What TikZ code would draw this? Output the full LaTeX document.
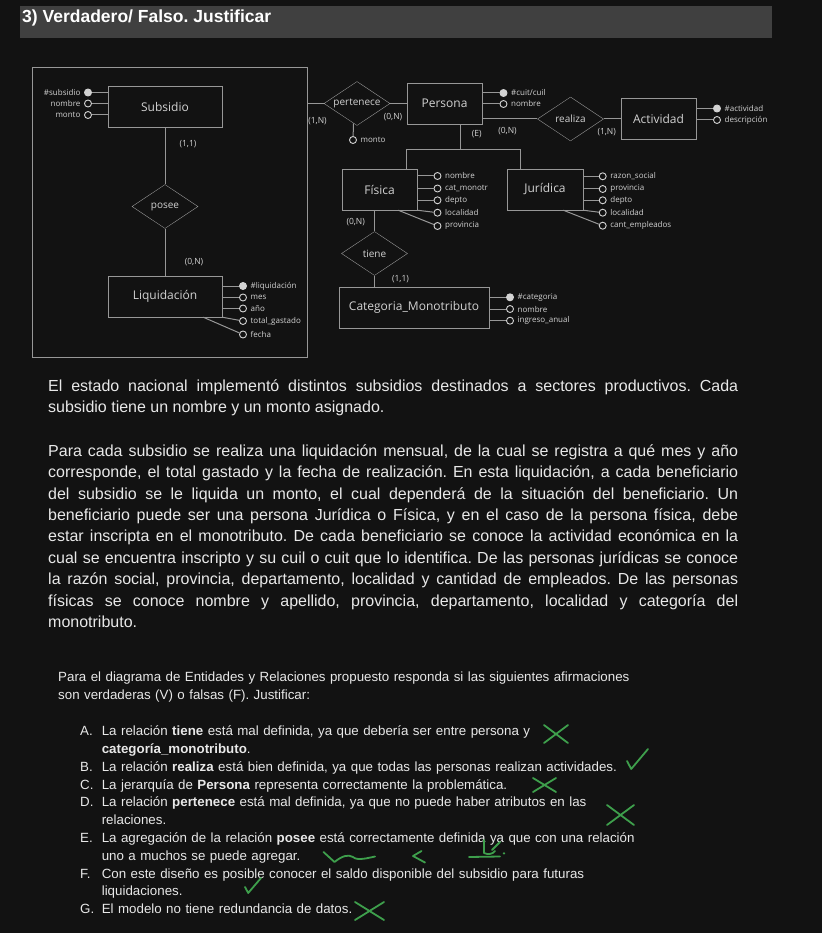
\documentclass[tikz,border=0pt]{standalone}
\usepackage{fontspec}
\setmainfont{Liberation Sans}
\newfontfamily\erfont{Open Sans}
\usetikzlibrary{shapes.geometric}
\definecolor{fondo}{HTML}{121212}
\definecolor{barra}{HTML}{404040}
\definecolor{linea}{HTML}{979797}
\definecolor{gris}{HTML}{D2D2D2}
\definecolor{texto}{HTML}{E8E8E8}
\definecolor{verde}{HTML}{3E9F4C}
\def\cruz{(-1,-1) -- (1,1) (1,-1) -- (-1,1)}
\def\visto{(-1,0.2) -- (-0.6,1) -- (1,-1)}

\begin{document}
\frenchspacing
\begin{tikzpicture}[x=1pt,y=-1pt,
    entidad/.style={draw=linea,fill=fondo,minimum height=41pt,inner sep=0pt,
        font=\erfont\fontsize{12}{14}\selectfont,text=gris},
    relacion/.style={diamond,draw=linea,fill=fondo,aspect=1.5,minimum width=66pt,
        minimum height=44pt,inner sep=0pt,font=\erfont\fontsize{10}{12}\selectfont,text=gris},
    attr/.style={circle,draw=gris,line width=0.9pt,fill=fondo,minimum size=7pt,inner sep=0pt},
    clave/.style={attr,fill=gris},
    etiq/.style={font=\erfont\fontsize{8}{9}\selectfont,text=gris,inner sep=0.5pt},
    der/.style={label={[etiq,xshift=3pt]right:#1}},
    izq/.style={label={[etiq,xshift=-3pt]left:#1}},
    card/.style={font=\erfont\fontsize{8.5}{10}\selectfont,text=gris,inner sep=0pt},
    con/.style={draw=linea,line width=1pt},
    parrafo/.style={anchor=base west,text width=690pt,align=justify,inner sep=0pt,
        font=\fontsize{16}{21.4}\selectfont,text=texto},
    pregunta/.style={anchor=base west,text width=640pt,align=left,inner sep=0pt,
        font=\fontsize{13.33}{17.8}\selectfont,text=texto},
    letra/.style={anchor=base west,inner sep=0pt,font=\fontsize{13.33}{17.8}\selectfont,text=texto},
    tick/.style={draw=verde,line width=1.8pt,line cap=round,line join=round}]

    \useasboundingbox (0,0) rectangle (822,933);
    \fill[fondo] (0,0) rectangle (822,933);

    % titulo
    \fill[barra] (20,6) rectangle (772,38);
    \node (titulo) [anchor=base west,inner sep=0pt,text=white,
        font=\bfseries\fontsize{17.5}{20}\selectfont] at (22,23) {3) Verdadero/ Falso. Justificar};

    % diagrama E-R
    \node (agregacion) [draw=linea,line width=1pt,minimum width=275pt,minimum height=289pt,inner sep=0pt] at (169.5,212.5) {};

    \node (subsidio) [entidad,minimum width=114pt] at (165,107) {Subsidio};
    \node (posee) [relacion] at (165,206.5) {posee};
    \node (liquidacion) [entidad,minimum width=114pt] at (165,296.5) {Liquidación};
    \node (pertenece) [relacion] at (357,103.5) {pertenece};
    \node (persona) [entidad,minimum width=75pt] at (444.5,103.5) {Persona};
    \node (realiza) [relacion] at (570.5,119) {realiza};
    \node (actividad) [entidad,minimum width=75pt] at (658.5,119) {Actividad};
    \node (fisica) [entidad,minimum width=75pt] at (379.5,189.5) {Física};
    \node (juridica) [entidad,minimum width=76pt] at (545,189.5) {Jurídica};
    \node (tiene) [relacion] at (374.5,253.5) {tiene};
    \node (categoria) [entidad,minimum width=150pt] at (414,307.5) {Categoria\_Monotributo};

    \draw[con] (subsidio) -- (posee);
    \draw[con] (posee) -- (liquidacion);
    \draw[con] (agregacion.east |- pertenece) -- (pertenece);
    \draw[con] (pertenece) -- (persona);
    \draw[con] (persona.east |- realiza) -- (realiza);
    \draw[con] (realiza) -- (actividad);
    \draw[con] (tiene.north |- fisica.south) -- (tiene);
    \draw[con] (tiene) -- (tiene.south |- categoria.north);

    % jerarquia
    \coordinate (jer) at (460.5,150);
    \coordinate (jerf) at (406.5,150);
    \coordinate (jerj) at (520.5,150);
    \draw[con] (persona.south -| jer) -- (jer);
    \draw[con] (fisica.north -| jerf) -- (jerf) -- (jerj) -- (juridica.north -| jerj);

    % cardinalidades
    \node (c1) [card] at (188,144) {(1,1)};
    \node (c2) [card] at (194,262) {(0,N)};
    \node (c3) [card] at (317.5,120.7) {(1,N)};
    \node (c4) [card] at (393,116.7) {(0,N)};
    \node (c5) [card] at (476.7,134) {(E)};
    \node (c6) [card] at (507.5,130.7) {(0,N)};
    \node (c7) [card] at (606.7,132.3) {(1,N)};
    \node (c8) [card] at (355.7,222.3) {(0,N)};
    \node (c9) [card] at (400.5,279) {(1,1)};

    % atributos
    \node (sid) [clave,izq=\#subsidio] at (88,92.5) {};
    \node (snom) [attr,izq=nombre] at (88,103.5) {};
    \node (smon) [attr,izq=monto] at (88,115) {};
    \draw[con] (sid) -- (sid -| subsidio.west);
    \draw[con] (snom) -- (snom -| subsidio.west);
    \draw[con] (smon) -- (smon -| subsidio.west);

    \node (lid) [clave,der=\#liquidación] at (243,286) {};
    \node (lmes) [attr,der=mes] at (243,297.5) {};
    \node (lanio) [attr,der=año] at (243,308.5) {};
    \node (ltot) [attr,der=total\_gastado] at (243,321) {};
    \node (lfec) [attr,der=fecha] at (243,334.5) {};
    \draw[con] (lid -| liquidacion.east) -- (lid);
    \draw[con] (lmes -| liquidacion.east) -- (lmes);
    \draw[con] (lanio -| liquidacion.east) -- (lanio);
    \draw[con] (liquidacion.south east) -- (ltot);
    \draw[con] (liquidacion.south east) ++(-19,0) -- (lfec);

    \node (pmonto) [attr,der=monto] at (353,140) {};
    \draw[con] (pertenece.-100) -- (pmonto);

    \node (pcuit) [clave,der=\#cuit/cuil] at (503.5,93) {};
    \node (pnom) [attr,der=nombre] at (503.5,104) {};
    \draw[con] (pcuit -| persona.east) -- (pcuit);
    \draw[con] (pnom -| persona.east) -- (pnom);

    \node (aid) [clave,der=\#actividad] at (717,108.5) {};
    \node (ades) [attr,der=descripción] at (717,120) {};
    \draw[con] (aid -| actividad.east) -- (aid);
    \draw[con] (ades -| actividad.east) -- (ades);

    \node (fnom) [attr,der=nombre] at (437.5,176) {};
    \node (fcat) [attr,der=cat\_monotr] at (437.5,188.5) {};
    \node (fdep) [attr,der=depto] at (437.5,200.3) {};
    \node (floc) [attr,der=localidad] at (437.5,212.7) {};
    \node (fprov) [attr,der=provincia] at (437.5,226) {};
    \draw[con] (fnom -| fisica.east) -- (fnom);
    \draw[con] (fcat -| fisica.east) -- (fcat);
    \draw[con] (fdep -| fisica.east) -- (fdep);
    \draw[con] (fisica.south east) -- (floc);
    \draw[con] (fisica.south east) ++(-19,0) -- (fprov);

    \node (jraz) [attr,der=razon\_social] at (602.7,176.3) {};
    \node (jprov) [attr,der=provincia] at (602.7,189) {};
    \node (jdep) [attr,der=depto] at (602.7,200.3) {};
    \node (jloc) [attr,der=localidad] at (602.7,212.7) {};
    \node (jcant) [attr,der=cant\_empleados] at (602.7,225.7) {};
    \draw[con] (jraz -| juridica.east) -- (jraz);
    \draw[con] (jprov -| juridica.east) -- (jprov);
    \draw[con] (jdep -| juridica.east) -- (jdep);
    \draw[con] (juridica.south east) -- (jloc);
    \draw[con] (juridica.south east) ++(-20,0) -- (jcant);

    \node (cid) [clave,der=\#categoria] at (510,297.3) {};
    \node (cnom) [attr,der=nombre] at (510,309) {};
    \node (cing) [attr,der=ingreso\_anual] at (510,320.7) {};
    \draw[con] (cid -| categoria.east) -- (cid);
    \draw[con] (cnom -| categoria.east) -- (cnom);
    \draw[con] (cing -| categoria.east) -- (cing);

    % enunciado
    \node (enun1) [parrafo] at (48,391.5) {\tolerance=10000\hbadness=10000
        El estado nacional implementó distintos subsidios destinados a sectores productivos. Cada\linebreak
        subsidio tiene un nombre y un monto asignado.};
    \node (enun2) [parrafo] at (48,456.2) {\tolerance=10000\hbadness=10000
        Para cada subsidio se realiza una liquidación mensual, de la cual se registra a qué mes y año\linebreak
        corresponde, el total gastado y la fecha de realización. En esta liquidación, a cada beneficiario\linebreak
        del subsidio se le liquida un monto, el cual dependerá de la situación del beneficiario. Un\linebreak
        beneficiario puede ser una persona Jurídica o Física, y en el caso de la persona física, debe\linebreak
        estar inscripta en el monotributo. De cada beneficiario se conoce la actividad económica en la\linebreak
        cual se encuentra inscripto y su cuil o cuit que lo identifica. De las personas jurídicas se conoce\linebreak
        la razón social, provincia, departamento, localidad y cantidad de empleados. De las personas\linebreak
        físicas se conoce nombre y apellido, provincia, departamento, localidad y categoría del\linebreak
        monotributo.};

    % preguntas
    \node (intro) [pregunta] at (58,681.5) {Para el diagrama de Entidades y Relaciones propuesto responda si las siguientes afirmaciones\\
        son verdaderas (V) o falsas (F). Justificar:};
    \node (lA) [letra] at (80,735.7) {A.};
    \node (qA) [pregunta] at (101.6,735.7) {La relación \textbf{tiene} está mal definida, ya que debería ser entre persona y\\
        \textbf{categoría\_monotributo}.};
    \node (lB) [letra] at (80,771.3) {B.};
    \node (qB) [pregunta] at (101.6,771.3) {La relación \textbf{realiza} está bien definida, ya que todas las personas realizan actividades.};
    \node (lC) [letra] at (80,789.1) {C.};
    \node (qC) [pregunta] at (101.6,789.1) {La jerarquía de \textbf{Persona} representa correctamente la problemática.};
    \node (lD) [letra] at (80,806.9) {D.};
    \node (qD) [pregunta] at (101.6,806.9) {La relación \textbf{pertenece} está mal definida, ya que no puede haber atributos en las\\
        relaciones.};
    \node (lE) [letra] at (80,842.5) {E.};
    \node (qE) [pregunta] at (101.6,842.5) {La agregación de la relación \textbf{posee} está correctamente definida ya que con una relación\\
        uno a muchos se puede agregar.};
    \node (lF) [letra] at (80,878.1) {F.};
    \node (qF) [pregunta] at (101.6,878.1) {Con este diseño es posible conocer el saldo disponible del subsidio para futuras\\
        liquidaciones.};
    \node (lG) [letra] at (80,913.7) {G.};
    \node (qG) [pregunta] at (101.6,913.7) {El modelo no tiene redundancia de datos.};

    % marcas a mano
    \draw[tick,shift={(556,734)},xscale=12,yscale=9] \cruz;
    \draw[tick,shift={(637.5,759)},xscale=10.5,yscale=10] \visto;
    \draw[tick,shift={(544.5,785)},xscale=11.5,yscale=7] \cruz;
    \draw[tick,shift={(620.5,815)},xscale=13.5,yscale=10] \cruz;
    \draw[tick] (323.5,852) -- (334.5,862) .. controls (342,856) and (348,854) .. (353,857)
        .. controls (357,861) and (368,858) .. (375,856.5);
    \draw[tick] (421.5,851) -- (413,856) -- (425,862.5);
    \draw[tick] (484,840) -- (484,853) .. controls (488,855) and (493,854) .. (495,851);
    \draw[tick] (469,857) -- (500,856.5);
    \draw[tick] (500,842) -- (492,850);
    \fill[verde] (504,853.3) circle (1.3);
    \draw[tick,shift={(253,885.5)},xscale=8,yscale=7.5] \visto;
    \draw[tick,shift={(369.5,911)},xscale=14.5,yscale=9] \cruz;
\end{tikzpicture}
\end{document}
